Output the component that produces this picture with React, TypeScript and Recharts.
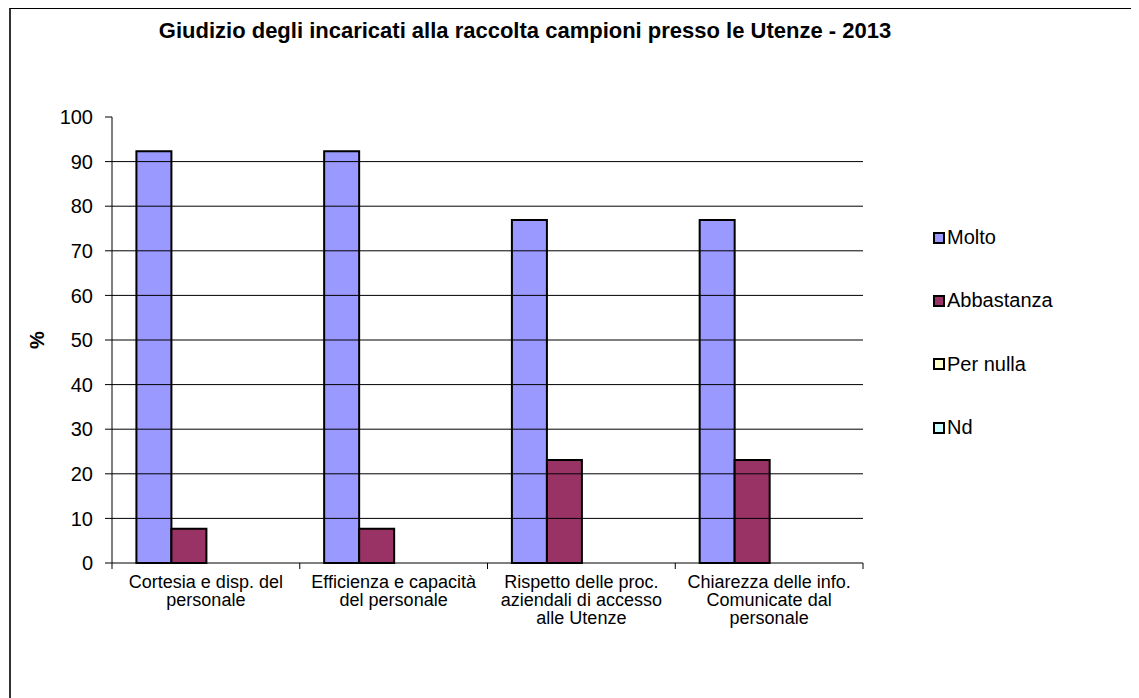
import React from "react";
import { BarChart, Bar, XAxis, YAxis, ReferenceLine, Label } from "recharts";

const categories = [
  "Cortesia e disp. del personale",
  "Efficienza e capacità del personale",
  "Rispetto delle proc. aziendali di accesso alle Utenze",
  "Chiarezza delle info. Comunicate dal personale",
];
const categoryLines = [
  ["Cortesia e disp. del", "personale"],
  ["Efficienza e capacità", "del personale"],
  ["Rispetto delle proc.", "aziendali di accesso", "alle Utenze"],
  ["Chiarezza delle info.", "Comunicate dal", "personale"],
];
const molto = [92.3, 92.3, 76.9, 76.9];
const abbastanza = [7.7, 7.7, 23.1, 23.1];
const perNulla = [0, 0, 0, 0];
const nd = [0, 0, 0, 0];
const yTicks = [0, 10, 20, 30, 40, 50, 60, 70, 80, 90, 100];
const gridValues = [10, 20, 30, 40, 50, 60, 70, 80, 90];

const seriesNames = ["Molto", "Abbastanza", "Per nulla", "Nd"];
const seriesColors = ["#9999FF", "#993366", "#FFFFCC", "#CCFFFF"];

const data = categories.map((c, i) => ({
  name: c,
  idx: i,
  Molto: molto[i],
  Abbastanza: abbastanza[i],
  "Per nulla": perNulla[i],
  Nd: nd[i],
}));

const FONT = "'Liberation Sans', Arial, sans-serif";

const XTick = (props: any) => {
  const { x, y, payload, index, visibleTicksCount } = props;
  const half = payload.offset || 0;
  const lines = categoryLines[payload.index ?? index] || [String(payload.value)];
  const axisY = y - 8;
  return (
    <g>
      <line x1={x - half} y1={axisY} x2={x - half} y2={axisY + 6} stroke="#000" />
      {index === visibleTicksCount - 1 && (
        <line x1={x + half} y1={axisY} x2={x + half} y2={axisY + 6} stroke="#000" />
      )}
      <text x={x} y={axisY + 25} textAnchor="middle" fontSize={18} fill="#000" fontFamily={FONT}>
        {lines.map((l, i) => (
          <tspan key={i} x={x} dy={i === 0 ? 0 : 18}>
            {l}
          </tspan>
        ))}
      </text>
    </g>
  );
};

const LegendBox = () => (
  <div
    style={{
      position: "absolute",
      left: 922,
      top: 197,
      fontFamily: FONT,
      fontSize: 20,
      color: "#000",
    }}
  >
    {seriesNames.map((n, i) => (
      <div key={n} style={{ display: "flex", alignItems: "center", height: 63.3 }}>
        <span
          style={{
            display: "inline-block",
            width: 8,
            height: 8,
            background: seriesColors[i],
            border: "2px solid #000",
            marginRight: 2,
          }}
        />
        <span>{n}</span>
      </div>
    ))}
  </div>
);

export default function App() {
  return (
    <div
      style={{
        position: "relative",
        width: 1131,
        height: 690,
        borderTop: "1px solid #000",
        borderLeft: "2px solid #333",
        marginLeft: 1,
        boxSizing: "border-box",
        overflow: "hidden",
        fontFamily: FONT,
      }}
    >
      <div
        style={{
          position: "absolute",
          left: 0,
          width: 1028,
          top: 9,
          textAlign: "center",
          fontWeight: "bold",
          fontSize: 22,
          fontFamily: FONT,
        }}
      >
        Giudizio degli incaricati alla raccolta campioni presso le Utenze - 2013
      </div>
      <BarChart
        width={1129}
        height={689}
        data={data}
        margin={{ top: 108, right: 277, bottom: 75, left: 0 }}
        barCategoryGap="13%"
        barGap={0}
      >
        <XAxis
          dataKey="name"
          tick={<XTick />}
          tickLine={false}
          axisLine={{ stroke: "#000" }}
          height={60}
          interval={0}
        />
        <YAxis
          type="number"
          domain={[0, 100]}
          ticks={yTicks}
          interval={0}
          width={101}
          tickSize={7}
          tickMargin={12}
          axisLine={{ stroke: "#000" }}
          tickLine={{ stroke: "#000" }}
          tick={{ fontSize: 20, fill: "#000", fontFamily: FONT }}
        >
          <Label
            value="%"
            angle={-90}
            position="insideLeft"
            offset={26}
            style={{ fontSize: 20, fontWeight: "bold", fill: "#000", fontFamily: FONT, textAnchor: "middle" }}
          />
        </YAxis>
        {gridValues.map((v) => (
          <ReferenceLine key={v} y={v} stroke="#000" strokeWidth={1} />
        ))}
        {seriesNames.map((n, i) => (
          <Bar
            key={n}
            dataKey={n}
            fill={seriesColors[i]}
            stroke="#000"
            strokeWidth={2}
            isAnimationActive={false}
          />
        ))}
      </BarChart>
      <LegendBox />
    </div>
  );
}
